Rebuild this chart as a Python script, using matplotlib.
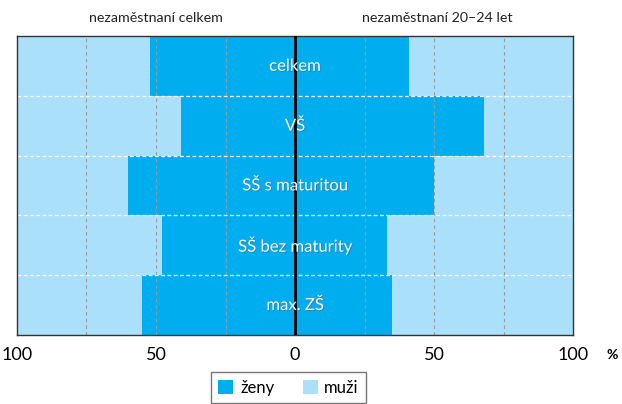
import numpy as np
import matplotlib.pyplot as plt
import matplotlib.patheffects as pe
from matplotlib.patches import Patch

plt.rcParams['font.family'] = ['Lato', 'DejaVu Sans']

# data (% share of women; men = 100 - women)
categories = ['celkem', 'VŠ', 'SŠ s maturitou', 'SŠ bez maturity', 'max. ZŠ']
zeny_celkem = [52, 41, 60, 48, 55]
zeny_20_24 = [41, 68, 50, 33, 35]
ticks = [-100, -50, 0, 50, 100]
tick_labels = ['100', '50', '0', '50', '100']

dark = '#00aeef'
light = '#abe0fa'

fig = plt.figure(figsize=(6.22, 4.04), dpi=100)
ax = fig.add_axes([0.0273, 0.171, 0.894, 0.740])

y = np.arange(len(categories))
zl = np.array(zeny_celkem)
zr = np.array(zeny_20_24)

# left side: nezaměstnaní celkem
ax.barh(y, -zl, height=1.0, color=dark, zorder=1)
ax.barh(y, -(100 - zl), left=-zl, height=1.0, color=light, zorder=1)
# right side: nezaměstnaní 20-24 let
ax.barh(y, zr, height=1.0, color=dark, zorder=1)
ax.barh(y, 100 - zr, left=zr, height=1.0, color=light, zorder=1)

for gx in [-75, -50, -25, 25, 50, 75]:
    ax.axvline(gx, color='#999999', lw=0.8, ls=(0, (3, 3)), zorder=2)
for gy in y[:-1] + 0.5:
    ax.axhline(gy, color='white', lw=0.9, ls=(0, (3, 2)), zorder=2)
ax.axvline(0, color='black', lw=2, zorder=3)

for yi, cat in zip(y, categories):
    ax.text(0, yi, cat, ha='center', va='center', color='white', fontsize=12,
            zorder=4, path_effects=[pe.withSimplePatchShadow(offset=(0.6, -0.6),
                                                              shadow_rgbFace='#555555', alpha=0.5)])

ax.set_xlim(-100, 100)
ax.set_ylim(len(categories) - 0.5, -0.5)
ax.set_xticks(ticks)
ax.set_xticklabels(tick_labels, fontsize=13)
ax.set_yticks([])
ax.tick_params(axis='x', length=0, pad=9)
for s in ax.spines.values():
    s.set_color('#333333')
    s.set_linewidth(1)

fig.text(0.984, 0.122, '%', fontsize=10, fontweight='bold', ha='center', va='center')
fig.text(0.251, 0.955, 'nezaměstnaní celkem', fontsize=10.3, color='#222222', ha='center', va='center')
fig.text(0.703, 0.955, 'nezaměstnaní 20–24 let', fontsize=10.3, color='#222222', ha='center', va='center')

handles = [Patch(facecolor=dark, label='ženy'), Patch(facecolor=light, label='muži')]
leg = fig.legend(handles=handles, loc='upper center', bbox_to_anchor=(0.464, 0.079), ncol=2,
                 frameon=True, fancybox=False, fontsize=12, handlelength=0.9, handleheight=0.9,
                 handletextpad=0.4, columnspacing=1.7, borderpad=0.45, borderaxespad=0)
leg.get_frame().set_edgecolor('#555555')
leg.get_frame().set_linewidth(1)

fig.savefig('out.png', dpi=100)
